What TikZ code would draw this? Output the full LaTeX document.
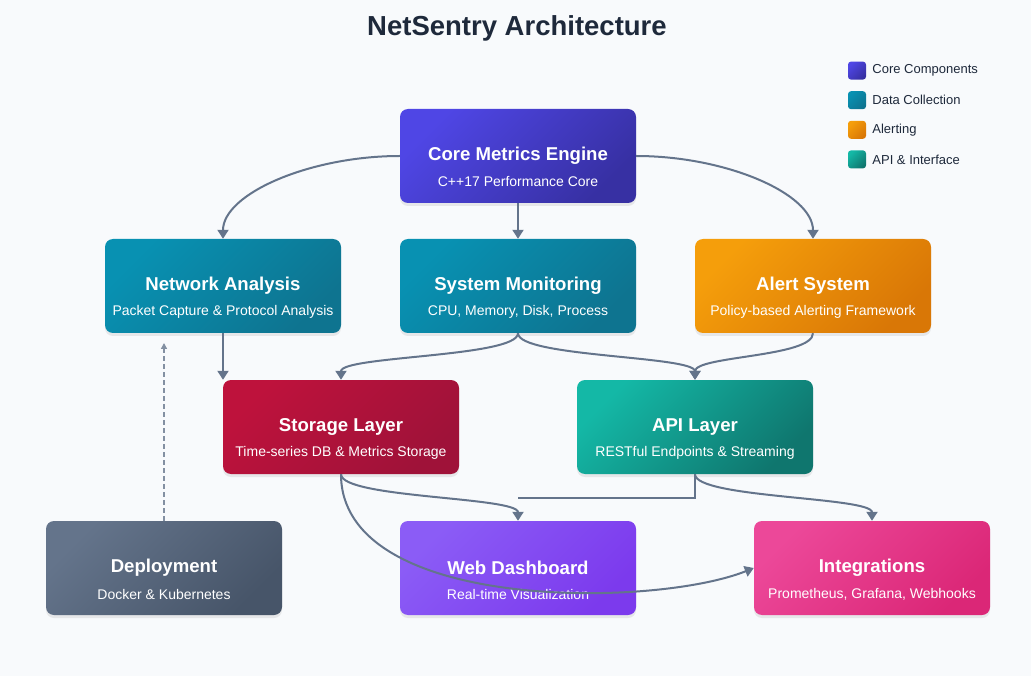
\documentclass[tikz,border=0pt]{standalone}
\usepackage{fontspec}
\setmainfont{Liberation Sans}
\usetikzlibrary{arrows.meta,shadows,positioning}

\definecolor{bgcol}{HTML}{F8FAFC}
\definecolor{inkcol}{HTML}{1E293B}
\definecolor{linkcol}{HTML}{64748B}
\definecolor{coreA}{HTML}{4F46E5}
\definecolor{coreB}{HTML}{3730A3}
\definecolor{dataA}{HTML}{0891B2}
\definecolor{dataB}{HTML}{0E7490}
\definecolor{alertA}{HTML}{F59E0B}
\definecolor{alertB}{HTML}{D97706}
\definecolor{apiA}{HTML}{14B8A6}
\definecolor{apiB}{HTML}{0F766E}
\definecolor{storA}{HTML}{BE123C}
\definecolor{storB}{HTML}{9F1239}
\definecolor{webA}{HTML}{8B5CF6}
\definecolor{webB}{HTML}{7C3AED}
\definecolor{integA}{HTML}{EC4899}
\definecolor{integB}{HTML}{DB2777}
\definecolor{depA}{HTML}{64748B}
\definecolor{depB}{HTML}{475569}

\tikzset{
    archbox/.style 2 args={rounded corners=8pt, minimum width=236pt, minimum height=94pt,
        inner sep=0pt, top color=#1, bottom color=#2, shading angle=45, text=white,
        font=\bfseries\fontsize{18.6}{22}\selectfont,
        drop shadow={opacity=0.15, shadow xshift=0pt, shadow yshift=-3pt}},
    subtext/.style={text=white, inner sep=0pt, yshift=-26pt, font=\fontsize{14}{17}\selectfont},
    link/.style={draw=linkcol, line width=2pt, -{Triangle[width=11pt,length=9pt]}},
    plainlink/.style={draw=linkcol, line width=2pt},
    deplink/.style={draw=linkcol!80, line width=1.5pt, dash pattern=on 5pt off 3pt,
        -{Triangle[width=6pt,length=6pt]}},
    legendbox/.style 2 args={rounded corners=3pt, minimum size=18pt, inner sep=0pt,
        top color=#1, bottom color=#2, shading angle=45},
    legendtext/.style={text=inkcol, inner sep=0pt, font=\fontsize{13}{15}\selectfont},
}
\newcommand\ArchNode[6]{%
    \node[archbox={#5}{#6}, label={[subtext]center:{#4}}] (#1) at (#2) {#3};
}

\begin{document}
\begin{tikzpicture}[x=1pt,y=-1pt]
    \fill[bgcol] (0,0) rectangle (1031,676);
    \useasboundingbox (0,0) rectangle (1031,676);
    \node[text=inkcol, font=\bfseries\fontsize{27.5}{32}\selectfont] (title) at (517,28) {NetSentry Architecture};

    % legend
    \foreach \ca/\cb/\lt [count=\i] in {coreA/coreB/Core Components, dataA/dataB/Data Collection,
            alertA/alertB/Alerting, apiA/apiB/API \& Interface} {
        \node[legendbox={\ca}{\cb}] (leg\i) at (857,41+29.6*\i) {};
        \node[legendtext, right=6pt of leg\i] (legtext\i) {\lt};
    }

    % components
    \ArchNode{core}{518,156}{Core Metrics Engine}{C++17 Performance Core}{coreA}{coreB}
    \ArchNode{net}{223,286}{Network Analysis}{Packet Capture \& Protocol Analysis}{dataA}{dataB}
    \ArchNode{sys}{518,286}{System Monitoring}{CPU, Memory, Disk, Process}{dataA}{dataB}
    \ArchNode{alert}{813,286}{Alert System}{Policy-based Alerting Framework}{alertA}{alertB}
    \ArchNode{stor}{341,427}{Storage Layer}{Time-series DB \& Metrics Storage}{storA}{storB}
    \ArchNode{api}{695,427}{API Layer}{RESTful Endpoints \& Streaming}{apiA}{apiB}
    \ArchNode{dep}{164,568}{Deployment}{Docker \& Kubernetes}{depA}{depB}
    \ArchNode{web}{518,568}{Web Dashboard}{Real-time Visualization}{webA}{webB}
    \ArchNode{integ}{872,568}{Integrations}{Prometheus, Grafana, Webhooks}{integA}{integB}

    % connectors
    \draw[link] (core.west) .. controls +(-90,0) and +(0,-45) .. (net.north);
    \draw[link] (core.south) -- (sys.north);
    \draw[link] (core.east) .. controls +(90,0) and +(0,-45) .. (alert.north);
    \draw[link] (net.south) -- (net.south |- stor.north);
    \draw[link] (sys.south) .. controls +(0,24) and +(0,-24) .. (stor.north);
    \draw[link] (sys.south) .. controls +(0,24) and +(0,-24) .. (api.north);
    \draw[link] (alert.south) .. controls +(0,24) and +(0,-24) .. (api.north);
    \draw[link] (stor.south) .. controls +(0,24) and +(0,-24) .. (web.north);
    \draw[link] (api.south) .. controls +(0,24) and +(0,-24) .. (integ.north);
    \draw[plainlink] (api.south) -- ++(0,24) coordinate (apibend) -- (apibend -| web.north);
    \draw[link] (stor.south) .. controls +(0,138) and +(-100,40) .. (integ.west);
    \coordinate (depend) at (164,343);
    \draw[deplink] (dep.north) -- (depend);
\end{tikzpicture}
\end{document}
